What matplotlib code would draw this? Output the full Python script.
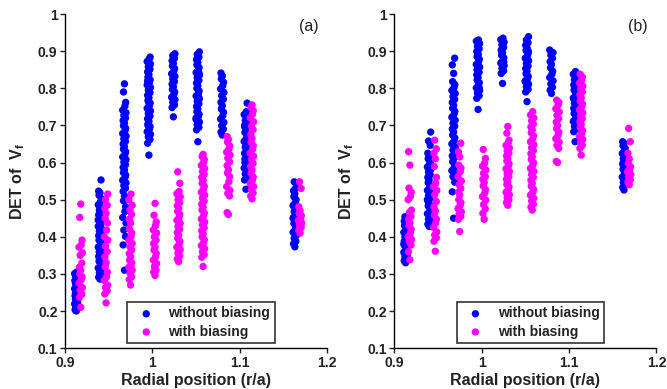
import matplotlib.pyplot as plt
from matplotlib.ticker import FormatStrFormatter

plt.rcParams['font.family'] = ['Liberation Sans', 'DejaVu Sans']
plt.rcParams['mathtext.fontset'] = 'custom'
plt.rcParams['mathtext.bf'] = 'Liberation Sans:bold'
plt.rcParams['mathtext.rm'] = 'Liberation Sans:bold'

# radial positions of the probe tips (r/a)
pos_without = [0.913, 0.940, 0.968, 0.996, 1.024, 1.052, 1.080, 1.107, 1.163]
pos_with = [0.918, 0.947, 0.975, 1.003, 1.030, 1.058, 1.087, 1.114, 1.169]

# panel (a): DET values, one list per radial position
a_without = [
    [0.200, 0.203, 0.207, 0.211, 0.215, 0.219, 0.224, 0.228, 0.232, 0.237, 0.241, 0.246, 0.251, 0.255,
     0.260, 0.264, 0.269, 0.274, 0.278, 0.283, 0.287, 0.292, 0.297, 0.301, 0.305, 0.222, 0.248, 0.266, 0.281],
    [0.286, 0.291, 0.297, 0.303, 0.309, 0.316, 0.322, 0.328, 0.334, 0.341, 0.347, 0.353, 0.359, 0.366,
     0.372, 0.378, 0.384, 0.391, 0.397, 0.403, 0.409, 0.416, 0.422, 0.428, 0.434, 0.441, 0.447, 0.453,
     0.459, 0.466, 0.472, 0.478, 0.486, 0.494, 0.503, 0.512, 0.518, 0.523, 0.553, 0.360, 0.405, 0.445],
    [0.310, 0.378, 0.401, 0.418, 0.437, 0.452, 0.468, 0.481, 0.497, 0.510, 0.522, 0.531, 0.538, 0.545,
     0.552, 0.559, 0.566, 0.573, 0.580, 0.587, 0.594, 0.601, 0.608, 0.615, 0.622, 0.629, 0.636, 0.643,
     0.650, 0.657, 0.664, 0.671, 0.678, 0.685, 0.692, 0.699, 0.706, 0.713, 0.720, 0.727, 0.734, 0.741,
     0.752, 0.762, 0.790, 0.812],
    [0.620, 0.652, 0.662, 0.669, 0.676, 0.683, 0.690, 0.697, 0.704, 0.711, 0.718, 0.725, 0.732, 0.739,
     0.746, 0.753, 0.760, 0.767, 0.774, 0.781, 0.788, 0.795, 0.802, 0.809, 0.816, 0.823, 0.830, 0.837,
     0.844, 0.851, 0.858, 0.865, 0.872, 0.879, 0.884, 0.700, 0.760, 0.820],
    [0.723, 0.748, 0.755, 0.762, 0.769, 0.776, 0.783, 0.790, 0.797, 0.804, 0.811, 0.818, 0.825, 0.832,
     0.839, 0.846, 0.853, 0.860, 0.867, 0.874, 0.881, 0.888, 0.893],
    [0.656, 0.688, 0.695, 0.702, 0.709, 0.716, 0.723, 0.730, 0.737, 0.744, 0.751, 0.758, 0.765, 0.772,
     0.779, 0.786, 0.793, 0.800, 0.807, 0.814, 0.821, 0.828, 0.835, 0.842, 0.849, 0.856, 0.863, 0.870,
     0.877, 0.884, 0.891, 0.898, 0.720, 0.780, 0.840],
    [0.674, 0.682, 0.690, 0.699, 0.708, 0.717, 0.726, 0.735, 0.744, 0.753, 0.762, 0.771, 0.780, 0.789,
     0.798, 0.807, 0.816, 0.825, 0.833, 0.841],
    [0.528, 0.553, 0.561, 0.569, 0.577, 0.585, 0.593, 0.601, 0.609, 0.617, 0.625, 0.633, 0.641, 0.649,
     0.657, 0.665, 0.673, 0.681, 0.689, 0.697, 0.705, 0.713, 0.721, 0.729, 0.737, 0.760, 0.600, 0.650, 0.700],
    [0.373, 0.381, 0.388, 0.396, 0.404, 0.412, 0.420, 0.428, 0.436, 0.444, 0.452, 0.460, 0.468, 0.476,
     0.484, 0.492, 0.500, 0.508, 0.516, 0.524, 0.532, 0.548, 0.420, 0.450, 0.480],
]
a_with = [
    [0.210, 0.237, 0.245, 0.256, 0.263, 0.275, 0.284, 0.292, 0.300, 0.310, 0.318, 0.329, 0.350, 0.357,
     0.372, 0.378, 0.391, 0.452, 0.488],
    [0.222, 0.246, 0.255, 0.263, 0.270, 0.282, 0.292, 0.305, 0.319, 0.330, 0.346, 0.360, 0.375, 0.391,
     0.400, 0.418, 0.437, 0.450, 0.463, 0.476, 0.485, 0.500, 0.515],
    [0.270, 0.285, 0.292, 0.302, 0.310, 0.318, 0.323, 0.330, 0.337, 0.346, 0.355, 0.364, 0.373, 0.382,
     0.391, 0.400, 0.410, 0.420, 0.437, 0.447, 0.460, 0.472, 0.485, 0.500, 0.515],
    [0.296, 0.305, 0.310, 0.320, 0.328, 0.337, 0.346, 0.355, 0.364, 0.373, 0.382, 0.391, 0.400, 0.410,
     0.418, 0.430, 0.440, 0.458, 0.490],
    [0.333, 0.340, 0.348, 0.356, 0.365, 0.372, 0.380, 0.388, 0.396, 0.404, 0.412, 0.420, 0.428, 0.436,
     0.444, 0.452, 0.460, 0.468, 0.476, 0.484, 0.492, 0.500, 0.508, 0.516, 0.522, 0.544, 0.575],
    [0.320, 0.345, 0.352, 0.360, 0.368, 0.376, 0.384, 0.392, 0.400, 0.408, 0.416, 0.424, 0.432, 0.440,
     0.448, 0.456, 0.464, 0.472, 0.480, 0.488, 0.496, 0.504, 0.512, 0.520, 0.528, 0.536, 0.544, 0.552,
     0.560, 0.568, 0.576, 0.584, 0.592, 0.600, 0.608, 0.616, 0.622],
    [0.460, 0.465, 0.510, 0.517, 0.525, 0.535, 0.548, 0.562, 0.572, 0.580, 0.592, 0.602, 0.612, 0.620,
     0.628, 0.636, 0.645, 0.655, 0.662, 0.670],
    [0.502, 0.510, 0.518, 0.527, 0.535, 0.543, 0.552, 0.561, 0.571, 0.580, 0.590, 0.598, 0.608, 0.617,
     0.625, 0.635, 0.645, 0.655, 0.665, 0.675, 0.688, 0.698, 0.710, 0.720, 0.730, 0.740, 0.748, 0.755],
    [0.410, 0.418, 0.425, 0.432, 0.437, 0.444, 0.450, 0.457, 0.463, 0.470, 0.481, 0.530, 0.548],
]

# panel (b)
b_without = [
    [0.330, 0.335, 0.340, 0.346, 0.352, 0.358, 0.364, 0.370, 0.376, 0.382, 0.388, 0.394, 0.400, 0.406,
     0.412, 0.418, 0.424, 0.430, 0.436, 0.442, 0.448, 0.454, 0.350, 0.380, 0.410],
    [0.428, 0.434, 0.441, 0.448, 0.455, 0.462, 0.469, 0.476, 0.483, 0.490, 0.497, 0.504, 0.511, 0.518,
     0.525, 0.532, 0.539, 0.546, 0.553, 0.560, 0.567, 0.574, 0.581, 0.588, 0.595, 0.602, 0.610, 0.618,
     0.625, 0.646, 0.658, 0.682, 0.500, 0.540],
    [0.450, 0.521, 0.547, 0.562, 0.570, 0.578, 0.586, 0.594, 0.602, 0.610, 0.618, 0.626, 0.634, 0.642,
     0.650, 0.658, 0.666, 0.674, 0.682, 0.690, 0.698, 0.706, 0.714, 0.722, 0.730, 0.738, 0.746, 0.754,
     0.762, 0.770, 0.778, 0.786, 0.794, 0.802, 0.810, 0.818, 0.840, 0.863, 0.881],
    [0.743, 0.773, 0.780, 0.787, 0.794, 0.801, 0.808, 0.815, 0.822, 0.829, 0.836, 0.843, 0.850, 0.857,
     0.864, 0.871, 0.878, 0.885, 0.892, 0.899, 0.906, 0.913, 0.920, 0.927, 0.930, 0.800, 0.850, 0.890],
    [0.813, 0.840, 0.847, 0.854, 0.861, 0.868, 0.875, 0.882, 0.889, 0.896, 0.903, 0.910, 0.917, 0.924,
     0.931, 0.935, 0.870, 0.900],
    [0.764, 0.790, 0.797, 0.804, 0.811, 0.818, 0.825, 0.832, 0.839, 0.846, 0.853, 0.860, 0.867, 0.874,
     0.881, 0.888, 0.895, 0.902, 0.909, 0.916, 0.923, 0.930, 0.939, 0.820, 0.860, 0.900],
    [0.786, 0.795, 0.803, 0.812, 0.820, 0.829, 0.838, 0.846, 0.855, 0.864, 0.872, 0.881, 0.889, 0.896, 0.903],
    [0.656, 0.683, 0.690, 0.697, 0.704, 0.711, 0.718, 0.725, 0.732, 0.739, 0.746, 0.753, 0.760, 0.767,
     0.774, 0.781, 0.788, 0.795, 0.802, 0.809, 0.816, 0.823, 0.830, 0.838, 0.845, 0.720, 0.770],
    [0.526, 0.533, 0.540, 0.547, 0.554, 0.561, 0.568, 0.575, 0.582, 0.589, 0.596, 0.603, 0.610, 0.617,
     0.624, 0.631, 0.638, 0.645, 0.652, 0.656, 0.570, 0.600],
]
b_with = [
    [0.338, 0.360, 0.378, 0.387, 0.393, 0.400, 0.410, 0.420, 0.430, 0.437, 0.447, 0.455, 0.465, 0.472,
     0.500, 0.508, 0.520, 0.531, 0.593, 0.629],
    [0.361, 0.388, 0.397, 0.405, 0.413, 0.425, 0.437, 0.447, 0.458, 0.470, 0.481, 0.495, 0.513, 0.525,
     0.535, 0.544, 0.560, 0.589, 0.610, 0.625, 0.637, 0.660],
    [0.414, 0.447, 0.455, 0.461, 0.467, 0.476, 0.485, 0.492, 0.500, 0.513, 0.520, 0.530, 0.540, 0.550,
     0.562, 0.575, 0.585, 0.593, 0.615, 0.629, 0.652],
    [0.447, 0.463, 0.475, 0.487, 0.499, 0.508, 0.517, 0.527, 0.537, 0.547, 0.555, 0.562, 0.571, 0.580,
     0.590, 0.598, 0.611, 0.635],
    [0.485, 0.492, 0.499, 0.506, 0.513, 0.520, 0.527, 0.534, 0.541, 0.548, 0.555, 0.562, 0.569, 0.576,
     0.583, 0.590, 0.597, 0.604, 0.611, 0.618, 0.625, 0.632, 0.639, 0.646, 0.653, 0.660, 0.679, 0.697],
    [0.472, 0.480, 0.488, 0.496, 0.504, 0.512, 0.520, 0.528, 0.536, 0.544, 0.552, 0.560, 0.568, 0.576,
     0.584, 0.592, 0.600, 0.608, 0.616, 0.624, 0.632, 0.640, 0.648, 0.656, 0.664, 0.672, 0.680, 0.688,
     0.696, 0.704, 0.712, 0.720, 0.728, 0.737],
    [0.600, 0.603, 0.638, 0.646, 0.655, 0.664, 0.673, 0.682, 0.691, 0.700, 0.709, 0.718, 0.727, 0.736,
     0.745, 0.754, 0.762, 0.768],
    [0.620, 0.638, 0.646, 0.654, 0.662, 0.670, 0.678, 0.686, 0.694, 0.702, 0.710, 0.718, 0.726, 0.734,
     0.742, 0.750, 0.758, 0.766, 0.774, 0.782, 0.790, 0.798, 0.806, 0.814, 0.822, 0.830, 0.838],
    [0.540, 0.547, 0.554, 0.561, 0.568, 0.575, 0.582, 0.589, 0.598, 0.610, 0.625, 0.656, 0.692],
]

# small sideways spread of the dots within one column (style, not data)
JITTER = [0.0, -0.0015, 0.0012, -0.0007, 0.0018, -0.0020, 0.0005, 0.0014, -0.0011]

BLUE = '#0000ff'
MAGENTA = '#ff00ff'


def spread(positions, columns):
    xs, ys = [], []
    for x0, col in zip(positions, columns):
        for i, y in enumerate(col):
            xs.append(x0 + JITTER[i % len(JITTER)])
            ys.append(y)
    return xs, ys


def draw_panel(ax, without, with_, tag):
    x, y = spread(pos_without, without)
    ax.scatter(x, y, s=28, color=BLUE, edgecolors='none', label='without biasing', zorder=2)
    x, y = spread(pos_with, with_)
    ax.scatter(x, y, s=28, color=MAGENTA, edgecolors='none', label='with biasing', zorder=3)

    ax.set_xlim(0.9, 1.2)
    ax.set_ylim(0.1, 1.0)
    ax.set_xticks([0.9, 1.0, 1.1, 1.2])
    ax.set_yticks([0.1, 0.2, 0.3, 0.4, 0.5, 0.6, 0.7, 0.8, 0.9, 1.0])
    ax.xaxis.set_major_formatter(FormatStrFormatter('%g'))
    ax.yaxis.set_major_formatter(FormatStrFormatter('%g'))
    for lab in ax.get_xticklabels() + ax.get_yticklabels():
        lab.set_fontweight('bold')
    ax.tick_params(direction='out', length=3.5, width=1, labelsize=10, pad=2, colors='#222222')
    ax.spines['top'].set_visible(False)
    ax.spines['right'].set_visible(False)
    ax.spines['left'].set_linewidth(1)
    ax.spines['bottom'].set_linewidth(1)

    ax.set_xlabel('Radial position (r/a)', fontsize=11.5, fontweight='bold', color='#222222', labelpad=2)
    ax.set_ylabel(r'DET of  V$_\mathbf{f}$', fontsize=11.5, fontweight='bold', color='#222222', labelpad=8)
    ax.text(1.19, 0.965, tag, fontsize=11.5, ha='right', va='center', color='#222222')

    leg = ax.legend(loc='lower center', bbox_to_anchor=(0.52, 0.014), frameon=True, fancybox=False,
                    edgecolor='black', fontsize=10, handletextpad=0.6, borderpad=0.35,
                    labelspacing=0.3, markerscale=1.0, borderaxespad=0)
    leg.get_frame().set_linewidth(1.2)
    for t in leg.get_texts():
        t.set_fontweight('bold')
        t.set_color('#222222')


fig = plt.figure(figsize=(6.67, 3.89), dpi=100)
ax_a = fig.add_axes([0.0975, 0.105, 0.393, 0.859])
ax_b = fig.add_axes([0.591, 0.105, 0.393, 0.859])

draw_panel(ax_a, a_without, a_with, '(a)')
draw_panel(ax_b, b_without, b_with, '(b)')

fig.savefig('out.png', dpi=100)
